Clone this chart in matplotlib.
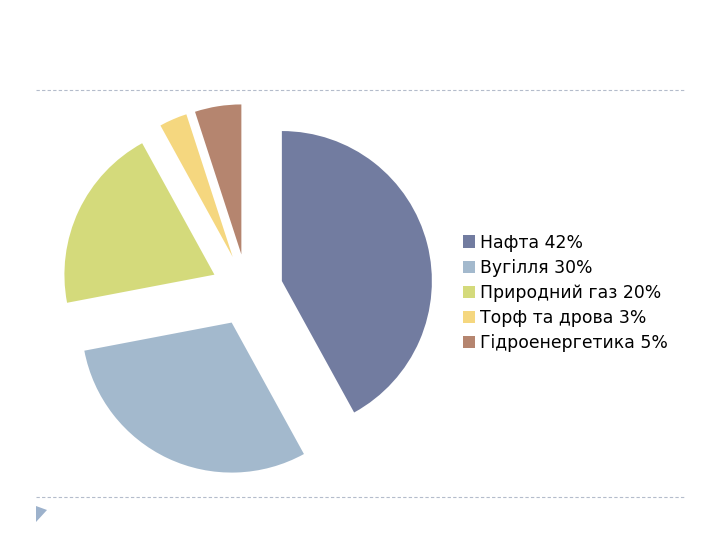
import matplotlib
matplotlib.use('Agg')
import matplotlib.pyplot as plt
from matplotlib.patches import Polygon, Patch
from matplotlib.lines import Line2D

labels = ['Нафта 42%', 'Вугілля 30%', 'Природний газ 20%', 'Торф та дрова 3%', 'Гідроенергетика 5%']
values = [42, 30, 20, 3, 5]
colors = ['#727CA0', '#A3B9CD', '#D4DA7B', '#F5D77F', '#B5856F']

fig = plt.figure(figsize=(7.2, 5.4), dpi=100)

# pie axes: centre near (247, 290) px, radius 150 px
ax = fig.add_axes([47 / 720, 50 / 540, 400 / 720, 400 / 540])
ax.pie(values, colors=colors, startangle=90, counterclock=False,
       explode=[0.24] * 5, radius=1.0,
       wedgeprops=dict(linewidth=0))
ax.set_xlim(-4 / 3, 4 / 3)
ax.set_ylim(-4 / 3, 4 / 3)
ax.set_aspect('equal')
ax.axis('off')

# dashed separator lines
for y in (90, 497):
    fig.add_artist(Line2D([36 / 720, 685 / 720], [1 - y / 540, 1 - y / 540],
                          color='#B4BCCB', lw=0.8, ls=(0, (3, 2))))

# small triangle bottom left
fig.add_artist(Polygon([[36 / 720, 1 - 506 / 540], [36 / 720, 1 - 522 / 540],
                        [47 / 720, 1 - 510 / 540]], closed=True,
                       color='#9DB2CC', lw=0))

handles = [Patch(facecolor=c, edgecolor='none') for c in colors]
fig.legend(handles, labels, loc='center left', bbox_to_anchor=(456 / 720, 1 - 293 / 540),
           frameon=False, fontsize=12.4, handlelength=0.7, handleheight=0.7,
           handletextpad=0.3, labelspacing=0.42, borderaxespad=0)

fig.savefig('out.png', dpi=100)
